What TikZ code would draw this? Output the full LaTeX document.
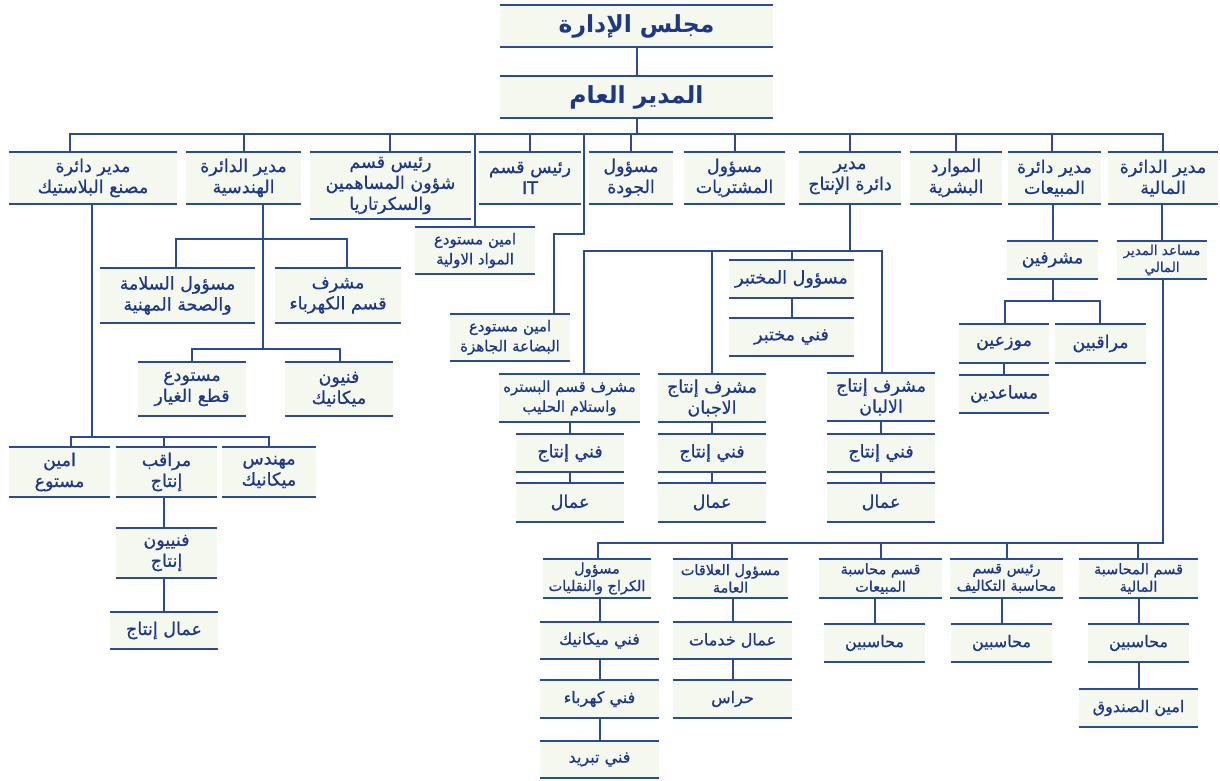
\documentclass[tikz,border=0pt]{standalone}
\usepackage{fontspec}
\newfontfamily\arabicfont[Script=Arabic]{DejaVu Sans}
\newfontfamily\arabicmed[Script=Arabic,FakeBold=0.7]{DejaVu Sans}
\TeXXeTstate=1
\definecolor{lnc}{RGB}{44,76,146}
\definecolor{txc}{RGB}{30,56,132}
\definecolor{boxc}{RGB}{245,248,239}
\newcommand\ar[1]{\beginR #1\endR}
\newcommand\bx[7]{\node[box,#6,minimum width={(#4-#2)*1pt},minimum height={(#5-#3)*1pt}] (#1) at ({(#2+#4)/2},{(#3+#5)/2}) {#7};}
\newcommand\dropto[4]{\coordinate (#1) at (#2,#3); \draw[ln] (#1) -- (#1 |- #4.north);}
\newcommand\vc[2]{\draw[ln] (#2.north |- #1.south) -- (#2.north);}
\tikzset{
  ln/.style={draw=lnc, line width=2pt, line cap=rect},
  box/.style={fill=boxc, inner sep=0pt, align=center, text=txc,
    font=\arabicmed\fontsize{17.5}{21}\selectfont,
    append after command={(\tikzlastnode.north west) edge[ln,line cap=butt] (\tikzlastnode.north east)
      (\tikzlastnode.south west) edge[ln,line cap=butt] (\tikzlastnode.south east)}},
  big/.style={font=\arabicfont\bfseries\fontsize{23.5}{27}\selectfont},
  mid/.style={font=\arabicmed\fontsize{17.5}{21}\selectfont},
  sm/.style={font=\arabicmed\fontsize{15}{20}\selectfont},
  smt/.style={font=\arabicmed\fontsize{14.5}{17.5}\selectfont},
  one/.style={font=\arabicmed\fontsize{16}{18}\selectfont},
  xs/.style={font=\arabicmed\fontsize{13.5}{17}\selectfont}
}
\begin{document}
\begin{tikzpicture}[x=1pt,y=-1pt]
\useasboundingbox (0,0) rectangle (1220,780);
% level 1
\bx{board}{500}{5}{773}{47}{big}{\ar{مجلس الإدارة}}
\bx{gm}{500}{76}{773}{118}{big}{\ar{المدير العام}}
% level 2
\bx{plastic}{9}{152}{177}{204}{mid}{\ar{مدير دائرة}\\\ar{مصنع البلاستيك}}
\bx{eng}{186}{152}{301}{204}{mid}{\ar{مدير الدائرة}\\\ar{الهندسية}}
\bx{share}{310}{152}{471}{219}{mid}{\ar{رئيس قسم}\\\ar{شؤون المساهمين}\\\ar{والسكرتاريا}}
\bx{it}{479}{152}{581}{204}{mid}{\ar{رئيس قسم}\\IT}
\bx{qual}{589}{152}{673}{204}{mid}{\ar{مسؤول}\\\ar{الجودة}}
\bx{purch}{684}{152}{785}{204}{mid}{\ar{مسؤول}\\\ar{المشتريات}}
\bx{prod}{799}{152}{901}{204}{mid}{\ar{مدير}\\\ar{دائرة الإنتاج}}
\bx{hr}{910}{152}{1002}{204}{mid}{\ar{الموارد}\\\ar{البشرية}}
\bx{sales}{1008}{152}{1101}{204}{mid}{\ar{مدير دائرة}\\\ar{المبيعات}}
\bx{fin}{1108}{152}{1218}{204}{mid}{\ar{مدير الدائرة}\\\ar{المالية}}
% store keepers
\bx{raw}{415}{227}{535}{274}{sm}{\ar{امين مستودع}\\\ar{المواد الاولية}}
\bx{fg}{450}{314}{570}{361}{sm}{\ar{امين مستودع}\\\ar{البضاعة الجاهزة}}
% engineering
\bx{safety}{100}{268}{255}{323}{mid}{\ar{مسؤول السلامة}\\\ar{والصحة المهنية}}
\bx{elec}{275}{268}{401}{323}{mid}{\ar{مشرف}\\\ar{قسم الكهرباء}}
\bx{spare}{138}{362}{246}{416}{mid}{\ar{مستودع}\\\ar{قطع الغيار}}
\bx{mech}{285}{362}{393}{416}{mid}{\ar{فنيون}\\\ar{ميكانيك}}
% plastic
\bx{store}{9}{447}{110}{497}{mid}{\ar{امين}\\\ar{مستوع}}
\bx{ctrl}{116}{447}{217}{497}{mid}{\ar{مراقب}\\\ar{إنتاج}}
\bx{meng}{222}{447}{316}{497}{mid}{\ar{مهندس}\\\ar{ميكانيك}}
\bx{ptech}{116}{528}{217}{578}{mid}{\ar{فنييون}\\\ar{إنتاج}}
\bx{pwork}{110}{612}{218}{649}{mid}{\ar{عمال إنتاج}}
% production
\bx{milk}{499}{374}{640}{422}{sm}{\ar{مشرف قسم البستره}\\\ar{واستلام الحليب}}
\bx{milkT}{516}{434}{624}{472}{mid}{\ar{فني إنتاج}}
\bx{milkW}{516}{483}{624}{522}{mid}{\ar{عمال}}
\bx{cheese}{658}{374}{766}{422}{mid}{\ar{مشرف إنتاج}\\\ar{الاجبان}}
\bx{cheeseT}{658}{434}{766}{472}{mid}{\ar{فني إنتاج}}
\bx{cheeseW}{658}{483}{766}{522}{mid}{\ar{عمال}}
\bx{lab}{729}{260}{854}{298}{mid}{\ar{مسؤول المختبر}}
\bx{labT}{729}{318}{854}{356}{mid}{\ar{فني مختبر}}
\bx{dairy}{827}{373}{935}{421}{mid}{\ar{مشرف إنتاج}\\\ar{الالبان}}
\bx{dairyT}{827}{434}{935}{472}{mid}{\ar{فني إنتاج}}
\bx{dairyW}{827}{483}{935}{522}{mid}{\ar{عمال}}
% sales
\bx{sup}{1007}{241}{1098}{279}{mid}{\ar{مشرفين}}
\bx{dist}{959}{324}{1049}{363}{mid}{\ar{موزعين}}
\bx{mon}{1055}{324}{1146}{363}{mid}{\ar{مراقبين}}
\bx{asst}{959}{375}{1049}{413}{mid}{\ar{مساعدين}}
% finance
\bx{afm}{1117}{241}{1207}{279}{xs}{\ar{مساعد المدير}\\\ar{المالي}}
\bx{garage}{543}{559}{651}{598}{smt}{\ar{مسؤول}\\\ar{الكراج والنقليات}}
\bx{pr}{673}{559}{788}{598}{smt}{\ar{مسؤول العلاقات}\\\ar{العامة}}
\bx{sacc}{819}{559}{942}{598}{smt}{\ar{قسم محاسبة}\\\ar{المبيعات}}
\bx{cost}{950}{559}{1063}{598}{smt}{\ar{رئيس قسم}\\\ar{محاسبة التكاليف}}
\bx{facc}{1079}{559}{1198}{598}{smt}{\ar{قسم المحاسبة}\\\ar{المالية}}
\bx{gm1}{540}{622}{659}{659}{one}{\ar{فني ميكانيك}}
\bx{gm2}{540}{680}{659}{718}{one}{\ar{فني كهرباء}}
\bx{gm3}{540}{741}{659}{778}{one}{\ar{فني تبريد}}
\bx{pr1}{673}{622}{792}{659}{one}{\ar{عمال خدمات}}
\bx{pr2}{673}{680}{792}{718}{one}{\ar{حراس}}
\bx{sacc1}{824}{624}{925}{662}{one}{\ar{محاسبين}}
\bx{cost1}{951}{624}{1052}{662}{one}{\ar{محاسبين}}
\bx{facc1}{1088}{624}{1189}{662}{one}{\ar{محاسبين}}
\bx{cash}{1079}{689}{1198}{727}{one}{\ar{امين الصندوق}}
% ---------- connectors ----------
\draw[ln] (board) -- (gm);
\coordinate (bus0) at (636.5,134);
\coordinate (busL) at (70,134);
\coordinate (busR) at (1163,134);
\draw[ln] (gm.south) -- (bus0);
\draw[ln] (busL) -- (busR);
\dropto{d1}{70}{134}{plastic}
\dropto{d2}{244}{134}{eng}
\dropto{d3}{390}{134}{share}
\dropto{d4}{475}{134}{raw}
\dropto{d5}{530}{134}{it}
\dropto{d7}{631}{134}{qual}
\dropto{d8}{735}{134}{purch}
\dropto{d9}{850}{134}{prod}
\dropto{d10}{956}{134}{hr}
\dropto{d11}{1052}{134}{sales}
\dropto{d12}{1163}{134}{fin}
% finished goods keeper
\coordinate (d6) at (584,134);
\coordinate (a2a) at (584,234);
\coordinate (a2b) at (554,234);
\draw[ln] (d6) -- (a2a) -- (a2b) -- (a2b |- fg.north);
% engineering
\coordinate (ee) at (263,349);
\draw[ln] (ee |- eng.south) -- (ee);
\coordinate (eb1) at (176,239); \coordinate (eb2) at (347,239);
\draw[ln] (eb1) -- (eb2);
\draw[ln] (eb1) -- (eb1 |- safety.north);
\draw[ln] (eb2) -- (eb2 |- elec.north);
\coordinate (ec1) at (192,349); \coordinate (ec2) at (340,349);
\draw[ln] (ec1) -- (ec2);
\draw[ln] (ec1) -- (ec1 |- spare.north);
\draw[ln] (ec2) -- (ec2 |- mech.north);
% plastic
\coordinate (pe) at (92,437);
\draw[ln] (pe |- plastic.south) -- (pe);
\coordinate (pb1) at (71,437); \coordinate (pb2) at (269,437); \coordinate (pb3) at (164,437);
\draw[ln] (pb1) -- (pb2);
\draw[ln] (pb1) -- (pb1 |- store.north);
\draw[ln] (pb3) -- (pb3 |- ctrl.north);
\draw[ln] (pb2) -- (pb2 |- meng.north);
\coordinate (pc) at (164,0);
\draw[ln] (pc |- ctrl.south) -- (pc |- ptech.north);
\draw[ln] (pc |- ptech.south) -- (pc |- pwork.north);
% production
\coordinate (prb) at (850,251);
\draw[ln] (prod.south) -- (prb);
\coordinate (prL) at (584,251); \coordinate (prR) at (882,251);
\draw[ln] (prL) -- (prR);
\draw[ln] (prL) -- (prL |- milk.north);
\dropto{pr2d}{712}{251}{cheese}
\dropto{pr3d}{792}{251}{lab}
\draw[ln] (prR) -- (prR |- dairy.north);
\vc{milk}{milkT} \vc{milkT}{milkW}
\vc{cheese}{cheeseT} \vc{cheeseT}{cheeseW}
\vc{dairy}{dairyT} \vc{dairyT}{dairyW}
\vc{lab}{labT}
% sales
\vc{sales}{sup}
\coordinate (sb) at (1052.5,301);
\draw[ln] (sup.south) -- (sb);
\coordinate (sb1) at (1005,301); \coordinate (sb2) at (1100,301);
\draw[ln] (sb1) -- (sb2);
\draw[ln] (sb1) -- (sb1 |- dist.north);
\draw[ln] (sb2) -- (sb2 |- mon.north);
\vc{dist}{asst}
% finance
\vc{fin}{afm}
\coordinate (fb) at (1163,543);
\draw[ln] (fb |- afm.south) -- (fb);
\coordinate (fbL) at (598,543);
\draw[ln] (fbL) -- (fb);
\draw[ln] (fbL) -- (fbL |- garage.north);
\dropto{f2}{732}{543}{pr}
\dropto{f3}{881}{543}{sacc}
\dropto{f4}{1007}{543}{cost}
\dropto{f5}{1138}{543}{facc}
\vc{garage}{gm1} \vc{gm1}{gm2} \vc{gm2}{gm3}
\vc{pr}{pr1} \vc{pr1}{pr2}
\vc{sacc}{sacc1}
\vc{cost}{cost1}
\vc{facc}{facc1} \vc{facc1}{cash}
\end{tikzpicture}
\end{document}
